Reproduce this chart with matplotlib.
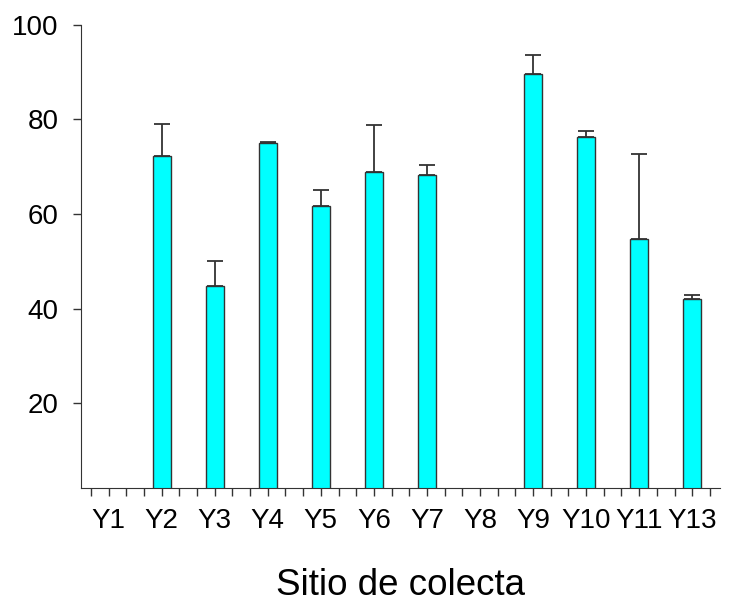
import numpy as np
from matplotlib import pyplot as plt

plt.rcParams['font.family'] = ['Liberation Sans', 'DejaVu Sans']

sitios = ['Y1', 'Y2', 'Y3', 'Y4', 'Y5', 'Y6', 'Y7', 'Y8', 'Y9', 'Y10', 'Y11', 'Y13']
media = [0, 72.2, 44.8, 75.0, 61.7, 68.8, 68.2, 0, 89.7, 76.3, 54.7, 42.0]
error = [0, 6.9, 5.2, 0.2, 3.3, 10.0, 2.2, 0, 3.9, 1.2, 18.0, 0.8]

fig = plt.figure(figsize=(7.33, 6.08), dpi=100)
ax = fig.add_axes([0.1105, 0.197, 0.8715, 0.762])

x = np.arange(len(sitios))
m = np.array(media, dtype=float)
e = np.array(error, dtype=float)
hay = m > 0
ax.bar(x[hay], m[hay], width=0.34, color='#00FFFF', edgecolor='#333333', linewidth=1.0, zorder=2)
ax.errorbar(x[hay], m[hay], yerr=[np.zeros(hay.sum()), e[hay]], fmt='none',
            ecolor='#333333', elinewidth=1.3, capsize=6, capthick=1.3, zorder=1)

ax.set_xlim(-0.52, 11.52)
ax.set_ylim(2, 100)
ax.set_xticks(x)
ax.set_xticklabels(sitios)
ax.set_xticks(np.arange(-1/3, 11.4, 1/3), minor=True)
ax.set_yticks([20, 40, 60, 80, 100])
ax.tick_params(axis='both', which='both', direction='out', length=6, width=1, colors='#333333',
               labelcolor='black', labelsize=20)
ax.tick_params(axis='x', pad=8)
ax.tick_params(axis='y', pad=10)
ax.spines['top'].set_visible(False)
ax.spines['right'].set_visible(False)
ax.spines['left'].set_color('#333333')
ax.spines['bottom'].set_color('#333333')
ax.set_xlabel('Sitio de colecta', fontsize=26.5, labelpad=25)

fig.savefig('out.png', dpi=100)
